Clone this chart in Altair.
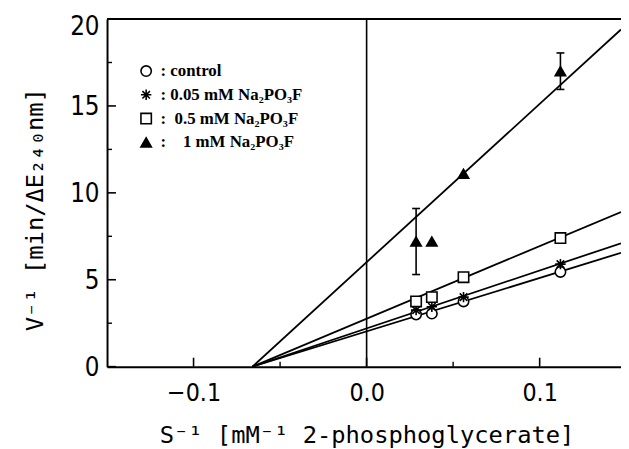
import altair as alt
import pandas as pd

# ---- data ----
series = ["control", "0.05 mM Na₂PO₃F", "0.5 mM Na₂PO₃F", "1 mM Na₂PO₃F"]
s_inv = [0.0286, 0.0377, 0.056, 0.112]
v_control = [3.0, 3.05, 3.75, 5.45]
v_005 = [3.25, 3.45, 4.0, 5.9]
v_05 = [3.75, 4.0, 5.15, 7.4]
v_1 = [7.2, 7.2, 11.1, 17.0]
err_1 = [1.9, 0.0, 0.0, 1.05]

# fitted lines: start at common x-intercept, end at right border
line_x_start = [-0.066, -0.066, -0.066, -0.066]
line_x_end = [0.147, 0.147, 0.147, 0.147]
line_y_end = [6.55, 7.1, 8.9, 19.4]

x_major = [-0.1, 0.0, 0.1]
x_minor = [-0.05, 0.05]
y_major = [0, 5, 10, 15, 20]
y_minor = [2.5, 7.5, 12.5, 17.5]

X_DOMAIN = [-0.15, 0.147]
Y_DOMAIN = [0, 20]

ASTERISK = "M0,-1L0,1M-1,0L1,0M-0.72,-0.72L0.72,0.72M-0.72,0.72L0.72,-0.72"

# ---- tables ----
rows = []
for name, vals in zip(series, [v_control, v_005, v_05, v_1]):
    for xv, yv in zip(s_inv, vals):
        rows.append({"series": name, "s": xv, "v": yv})
pts = pd.DataFrame(rows)

lines = pd.DataFrame(
    [{"series": n, "s": x0, "v": 0.0} for n, x0 in zip(series, line_x_start)]
    + [{"series": n, "s": x1, "v": y1} for n, x1, y1 in zip(series, line_x_end, line_y_end)]
)

err = pd.DataFrame([
    {"s": xv, "lo": yv - e, "hi": yv + e}
    for xv, yv, e in zip(s_inv, v_1, err_1) if e > 0
])

xs = alt.Scale(domain=X_DOMAIN, nice=False, zero=False)
ys = alt.Scale(domain=Y_DOMAIN, nice=False)

x_axis = alt.Axis(
    values=x_major, format=".1f", ticks=False, grid=False,
    domainColor="black", domainWidth=2,
    labelFont="Liberation Sans Narrow, DejaVu Sans Condensed, sans-serif",
    labelFontSize=25, labelColor="black", labelPadding=14,
    title="S⁻¹  [mM⁻¹ 2-phosphoglycerate]",
    titleFont="DejaVu Sans Mono", titleFontSize=24, titleFontWeight="normal",
    titleColor="black", titleX=262, titleY=77, titleBaseline="alphabetic",
    titleAnchor="middle",
)
y_axis = alt.Axis(
    values=y_major, ticks=False, grid=False,
    domainColor="black", domainWidth=2,
    labelFont="Liberation Sans Narrow, DejaVu Sans Condensed, sans-serif",
    labelFontSize=26, labelColor="black", labelPadding=8,
    labelOffset={"condition": {"test": "datum.value >= 20", "value": 8}, "value": 1},
    title="V⁻¹  [min/ΔE₂₄₀nm]",
    titleFont="DejaVu Sans Mono", titleFontSize=24, titleFontWeight="normal",
    titleColor="black", titleX=-72, titleY=192, titleAngle=-90,
    titleAlign="center", titleBaseline="middle",
)

base_x = alt.X("s:Q", scale=xs, axis=x_axis)
base_y = alt.Y("v:Q", scale=ys, axis=y_axis)

line_layer = alt.Chart(lines).mark_line(color="black", strokeWidth=1.8).encode(
    x=base_x, y=base_y, detail="series:N"
)

# frame: top border and vertical line at x = 0
top_border = alt.Chart(pd.DataFrame({"a": [X_DOMAIN[0]], "b": [X_DOMAIN[1]], "v": [Y_DOMAIN[1]]})).mark_rule(
    color="black", strokeWidth=2
).encode(x=alt.X("a:Q", scale=xs), x2="b:Q", y=alt.Y("v:Q", scale=ys))

zero_line = alt.Chart(pd.DataFrame({"s": [0.0]})).mark_rule(color="black", strokeWidth=1.6).encode(
    x=alt.X("s:Q", scale=xs)
)

# inward ticks
xt_major = alt.Chart(pd.DataFrame({"s": x_major, "v": 0.0})).mark_tick(
    orient="vertical", size=9, thickness=1.6, color="black", yOffset=-4.5, opacity=1
).encode(x=alt.X("s:Q", scale=xs), y=alt.Y("v:Q", scale=ys))
xt_minor = alt.Chart(pd.DataFrame({"s": x_minor, "v": 0.0})).mark_tick(
    orient="vertical", size=5, thickness=1.4, color="black", yOffset=-2.5, opacity=1
).encode(x=alt.X("s:Q", scale=xs), y=alt.Y("v:Q", scale=ys))
yt_major = alt.Chart(pd.DataFrame({"s": X_DOMAIN[0], "v": y_major})).mark_tick(
    orient="horizontal", size=9, thickness=1.6, color="black", xOffset=4.5, opacity=1
).encode(x=alt.X("s:Q", scale=xs), y=alt.Y("v:Q", scale=ys))
yt_minor = alt.Chart(pd.DataFrame({"s": X_DOMAIN[0], "v": y_minor})).mark_tick(
    orient="horizontal", size=5, thickness=1.4, color="black", xOffset=2.5, opacity=1
).encode(x=alt.X("s:Q", scale=xs), y=alt.Y("v:Q", scale=ys))

# error bars
err_rule = alt.Chart(err).mark_rule(color="black", strokeWidth=1.6).encode(
    x=alt.X("s:Q", scale=xs), y=alt.Y("lo:Q", scale=ys), y2="hi:Q"
)
err_cap_hi = alt.Chart(err).mark_tick(orient="horizontal", size=8, thickness=1.6, color="black", opacity=1).encode(
    x=alt.X("s:Q", scale=xs), y=alt.Y("hi:Q", scale=ys)
)
err_cap_lo = alt.Chart(err).mark_tick(orient="horizontal", size=8, thickness=1.6, color="black", opacity=1).encode(
    x=alt.X("s:Q", scale=xs), y=alt.Y("lo:Q", scale=ys)
)

legend = alt.Legend(
    title=None, orient="none", legendX=31, legendY=44, padding=0,
    labelFont="Liberation Serif", labelFontWeight="bold", labelFontSize=17,
    labelColor="black", labelOffset=6, rowPadding=6,
    symbolStrokeColor="black", symbolStrokeWidth=1.6, symbolSize=110,
    labelLimit=400,
    labelExpr="(datum.label == '1 mM Na₂PO₃F' ? ' :\u00a0\u00a0\u00a0 ' : "
              "datum.label == '0.5 mM Na₂PO₃F' ? ':\u00a0 ' : ': ') + datum.label",
)

point_layer = alt.Chart(pts).mark_point(
    strokeWidth=1.6, opacity=1, fillOpacity=1, strokeOpacity=1, size=110
).encode(
    x=base_x, y=base_y,
    shape=alt.Shape("series:N", scale=alt.Scale(domain=series, range=["circle", ASTERISK, "square", "triangle-up"]), legend=legend),
    fill=alt.Fill("series:N", scale=alt.Scale(domain=series, range=["white", "white", "white", "black"]), legend=legend),
    stroke=alt.Stroke("series:N", scale=alt.Scale(domain=series, range=["black", "black", "black", "black"]), legend=legend),
)

chart = alt.layer(
    line_layer, top_border, zero_line, xt_major, xt_minor, yt_major, yt_minor,
    err_rule, err_cap_hi, err_cap_lo, point_layer
).properties(
    width=519, height=351,
    autosize=alt.AutoSizeParams(type="none"),
    padding={"left": 100, "top": 9, "right": 0, "bottom": 81},
    background="white",
).configure_view(strokeWidth=0)

chart.save("out.html", embed_options={"renderer": "svg", "actions": False})
